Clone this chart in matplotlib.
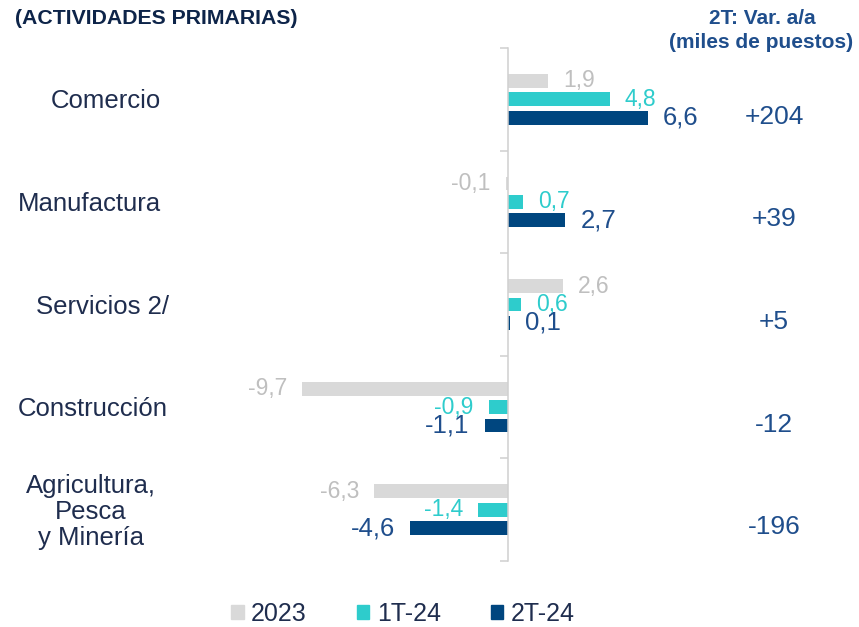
import matplotlib
matplotlib.use("Agg")
import matplotlib.pyplot as plt
from matplotlib.patches import Patch
from matplotlib.transforms import blended_transform_factory

plt.rcParams['font.family'] = ['Liberation Sans', 'DejaVu Sans']

# datos
categorias = ["Comercio", "Manufactura", "Servicios 2/", "Construcción",
              "Agricultura,\nPesca\ny Minería"]
series = ["2023", "1T-24", "2T-24"]
v2023 = [1.9, -0.1, 2.6, -9.7, -6.3]
v1t24 = [4.8, 0.7, 0.6, -0.9, -1.4]
v2t24 = [6.6, 2.7, 0.1, -1.1, -4.6]
var_puestos = ["+204", "+39", "+5", "-12", "-196"]

# colores
col_bar = ["#D9D9D9", "#2ECCCC", "#00467F"]
col_lab = ["#BFBFBF", "#2ECCCC", "#1F4E8C"]
size_lab = [16.5, 16.5, 18.5]
navy_txt = "#1F2D4E"
blue_txt = "#1F4E8C"

# centro horizontal (px) de cada etiqueta de categoria
x_cat = [106, 89, 103, 93, 91]

fig = plt.figure(figsize=(8.59, 6.27), dpi=100)
ax = fig.add_axes([232 / 859, 1 - 561 / 627, 472 / 859, 513 / 627])

offsets = [-0.18, 0.0, 0.18]
alto = 0.135
pos = list(range(len(categorias)))

for serie, vals, off, cb, cl, fs in zip(series, [v2023, v1t24, v2t24], offsets,
                                        col_bar, col_lab, size_lab):
    ys = [p + off for p in pos]
    ax.barh(ys, vals, height=alto, color=cb, label=serie)
    for y, v in zip(ys, vals):
        txt = f"{v:.1f}".replace('.', ',')
        dx = 11 if v >= 0 else -11
        ax.annotate(txt, (v, y), xytext=(dx, 0), textcoords='offset points',
                    ha='left' if v >= 0 else 'right', va='center',
                    fontsize=fs, color=cl)

ax.set_xlim(-13.02, 9.25)
ax.set_ylim(4.5, -0.5)

for s in ['top', 'right', 'bottom']:
    ax.spines[s].set_visible(False)
ax.spines['left'].set_position(('data', 0))
ax.spines['left'].set_color('#D0D0D0')
ax.spines['left'].set_linewidth(1.1)
ax.set_xticks([])
ax.set_yticks([p - 0.5 for p in pos] + [len(pos) - 0.5])
ax.set_yticklabels([])
ax.tick_params(axis='y', direction='out', length=6, width=1.1, color='#D0D0D0')

# etiquetas de categorias y variacion
tr = blended_transform_factory(fig.transFigure, ax.transData)
for p, cat, var, xc in zip(pos, categorias, var_puestos, x_cat):
    ax.text(xc / 859, p + 0.02, cat, transform=tr, ha='center', va='center',
            fontsize=18.5, color=navy_txt, linespacing=1.1)
    ax.text(774 / 859, p + 0.17, var, transform=tr, ha='center', va='center',
            fontsize=19, color=blue_txt)

fig.text(15 / 859, 1 - 18 / 627, "(ACTIVIDADES PRIMARIAS)", ha='left',
         va='center', fontsize=15.3, fontweight='bold', color="#0D2449")
fig.text(762 / 859, 1 - 18 / 627, "2T: Var. a/a", ha='center', va='center',
         fontsize=15, fontweight='bold', color=blue_txt)
fig.text(761 / 859, 1 - 43 / 627, "(miles de puestos)", ha='center',
         va='center', fontsize=15, fontweight='bold', color=blue_txt)

handles = [Patch(color=c) for c in col_bar]
fig.legend(handles, series, loc='center', bbox_to_anchor=(403 / 859, 1 - 614 / 627),
           ncol=3, frameon=False, fontsize=18, labelcolor=navy_txt,
           handlelength=0.5, handleheight=0.5, handletextpad=0.3,
           columnspacing=2.0, borderpad=0.1)

fig.savefig("out.png", dpi=100)
